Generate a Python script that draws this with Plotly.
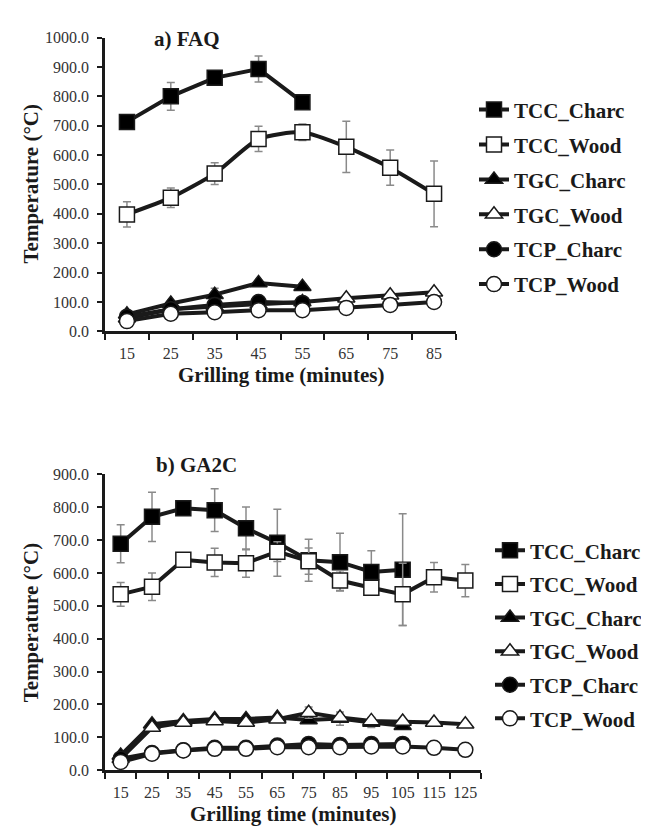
import plotly.graph_objects as go

# ---------------- data ----------------
series_names = ["TCC_Charc", "TCC_Wood", "TGC_Charc", "TGC_Wood", "TCP_Charc", "TCP_Wood"]

# a) FAQ
faq_time_charc = [15, 25, 35, 45, 55]
faq_time_wood = [15, 25, 35, 45, 55, 65, 75, 85]
faq_tcc_charc = [713, 800, 863, 893, 780]
faq_tcc_charc_err = [20, 47, 12, 44, 10]
faq_tcc_wood = [398, 455, 537, 655, 678, 628, 557, 468]
faq_tcc_wood_err = [43, 33, 37, 43, 28, 87, 60, 112]
faq_tgc_charc = [58, 95, 125, 165, 152]
faq_tgc_charc_err = [8, 10, 22, 8, 8]
faq_tgc_wood = [45, 75, 85, 92, 100, 113, 123, 133]
faq_tgc_wood_err = [5, 5, 5, 5, 5, 5, 5, 5]
faq_tcp_charc = [50, 75, 90, 100, 97]
faq_tcp_charc_err = [5, 5, 5, 5, 5]
faq_tcp_wood = [35, 60, 65, 72, 72, 80, 90, 100]
faq_tcp_wood_err = [5, 5, 5, 5, 12, 5, 5, 5]

# b) GA2C
ga_time_charc = [15, 25, 35, 45, 55, 65, 75, 85, 95, 105]
ga_time_wood = [15, 25, 35, 45, 55, 65, 75, 85, 95, 105, 115, 125]
ga_tcc_charc = [689, 771, 797, 791, 736, 692, 639, 633, 603, 610]
ga_tcc_charc_err = [58, 75, 10, 65, 65, 102, 64, 88, 65, 170]
ga_tcc_wood = [535, 558, 640, 632, 630, 665, 636, 577, 555, 535, 587, 577]
ga_tcc_wood_err = [36, 42, 10, 43, 43, 30, 40, 30, 20, 95, 45, 49]
ga_tgc_charc = [45, 140, 150, 156, 156, 160, 153, 157, 145, 135]
ga_tgc_charc_err = [5, 8, 5, 5, 5, 5, 8, 20, 15, 8]
ga_tgc_wood = [35, 130, 145, 150, 145, 155, 175, 160, 150, 148, 145, 140]
ga_tgc_wood_err = [5, 8, 5, 5, 5, 5, 17, 8, 8, 8, 5, 5]
ga_tcp_charc = [35, 52, 61, 68, 68, 75, 80, 77, 80, 80]
ga_tcp_charc_err = [4, 4, 4, 4, 4, 4, 4, 4, 4, 4]
ga_tcp_wood = [25, 50, 60, 65, 65, 70, 70, 70, 72, 72, 68, 62]
ga_tcp_wood_err = [4, 4, 4, 4, 4, 4, 4, 4, 4, 4, 4, 4]

faq_ticks = [15, 25, 35, 45, 55, 65, 75, 85]
ga_ticks = [15, 25, 35, 45, 55, 65, 75, 85, 95, 105, 115, 125]
faq_yticks = [0, 100, 200, 300, 400, 500, 600, 700, 800, 900, 1000]
ga_yticks = [0, 100, 200, 300, 400, 500, 600, 700, 800, 900]

# ---------------- styling ----------------
W, H = 649, 828
FONT = "Liberation Serif"
styles = {
    "TCC_Charc": ("square", "black"),
    "TCC_Wood": ("square", "white"),
    "TGC_Charc": ("triangle-up", "black"),
    "TGC_Wood": ("triangle-up", "white"),
    "TCP_Charc": ("circle", "black"),
    "TCP_Wood": ("circle", "white"),
}

fig = go.Figure()


def add(name, x, y, err, xa, ya, legend, shape="linear"):
    sym, fill = styles[name]
    fig.add_trace(go.Scatter(
        x=x, y=y, name="<b>" + name + "</b>", mode="lines+markers",
        xaxis=xa, yaxis=ya, legend=legend, legendgroup=legend + name,
        line=dict(color="#1a1a1a", width=4, shape=shape, smoothing=0.6),
        marker=dict(symbol=sym, size=15, color=fill,
                    line=dict(color="#1a1a1a", width=1.5)),
        error_y=dict(type="data", array=err, visible=True,
                     color="#8a8a8a", thickness=1.5, width=4),
    ))


faq_data = [
    ("TCC_Charc", faq_time_charc, faq_tcc_charc, faq_tcc_charc_err),
    ("TCC_Wood", faq_time_wood, faq_tcc_wood, faq_tcc_wood_err),
    ("TGC_Charc", faq_time_charc, faq_tgc_charc, faq_tgc_charc_err),
    ("TGC_Wood", faq_time_wood, faq_tgc_wood, faq_tgc_wood_err),
    ("TCP_Charc", faq_time_charc, faq_tcp_charc, faq_tcp_charc_err),
    ("TCP_Wood", faq_time_wood, faq_tcp_wood, faq_tcp_wood_err),
]
ga_data = [
    ("TCC_Charc", ga_time_charc, ga_tcc_charc, ga_tcc_charc_err),
    ("TCC_Wood", ga_time_wood, ga_tcc_wood, ga_tcc_wood_err),
    ("TGC_Charc", ga_time_charc, ga_tgc_charc, ga_tgc_charc_err),
    ("TGC_Wood", ga_time_wood, ga_tgc_wood, ga_tgc_wood_err),
    ("TCP_Charc", ga_time_charc, ga_tcp_charc, ga_tcp_charc_err),
    ("TCP_Wood", ga_time_wood, ga_tcp_wood, ga_tcp_wood_err),
]
for n, x, y, e in faq_data:
    add(n, x, y, e, "x", "y", "legend", "spline" if n == "TCC_Wood" else "linear")
for n, x, y, e in ga_data:
    add(n, x, y, e, "x2", "y2", "legend2")

tickfont = dict(family=FONT, size=16, color="#333333")
axis_common = dict(showline=True, linecolor="#1a1a1a", linewidth=2.5,
                   showgrid=False, zeroline=False, tickfont=tickfont,
                   ticks="outside", ticklen=5, tickcolor="#1a1a1a", tickwidth=1.5)


def px_x(p):
    return p / W


def px_y(p):
    return 1 - p / H


fig.update_layout(
    width=W, height=H, margin=dict(l=0, r=0, t=0, b=0),
    font=dict(family=FONT, color="#1a1a1a"),
    paper_bgcolor="white", plot_bgcolor="white", showlegend=True,
    xaxis=dict(domain=[px_x(97), px_x(448)], range=[10, 90], anchor="y",
               tickvals=faq_ticks, ticktext=[str(t) for t in faq_ticks],
               ticklabelstandoff=6,
               **{**axis_common, "ticks": ""},
               minor=dict(tickvals=list(range(10, 91, 10)), ticks="outside",
                          ticklen=6, tickcolor="#1a1a1a", tickwidth=1.5)),
    yaxis=dict(domain=[px_y(322), px_y(22)], range=[0, 1000], anchor="x",
               tickvals=faq_yticks, ticktext=[f"{v:.1f}" for v in faq_yticks],
               ticklabelstandoff=5, **axis_common),
    xaxis2=dict(domain=[px_x(97), px_x(473)], range=[10, 130], anchor="y2",
                tickvals=ga_ticks, ticktext=[str(t) for t in ga_ticks],
                ticklabelstandoff=6,
                **{**axis_common, "ticks": ""},
                minor=dict(tickvals=list(range(10, 131, 10)), ticks="outside",
                           ticklen=6, tickcolor="#1a1a1a", tickwidth=1.5)),
    yaxis2=dict(domain=[px_y(770), px_y(468)], range=[0, 900], anchor="x2",
                tickvals=ga_yticks, ticktext=[f"{v:.1f}" for v in ga_yticks],
                ticklabelstandoff=5, **axis_common),
    legend=dict(x=px_x(466), y=px_y(75), xanchor="left", yanchor="top",
                font=dict(family=FONT, size=21, color="#1a1a1a"),
                tracegroupgap=4.6, itemwidth=30, bgcolor="rgba(0,0,0,0)"),
    legend2=dict(x=px_x(482), y=px_y(525), xanchor="left", yanchor="top",
                 font=dict(family=FONT, size=21, color="#1a1a1a"),
                 tracegroupgap=3.3, itemwidth=30, bgcolor="rgba(0,0,0,0)"),
)

title_font = dict(family=FONT, size=21, color="#1a1a1a")
annots = [
    dict(text="<b>a) FAQ</b>", x=px_x(179), y=px_y(23)),
    dict(text="<b>b) GA2C</b>", x=px_x(188), y=px_y(458)),
    dict(text="<b>Grilling time (minutes)</b>", x=px_x(273), y=px_y(367)),
    dict(text="<b>Grilling time (minutes)</b>", x=px_x(285), y=px_y(815)),
    dict(text="<b>Temperature (°C)</b>", x=px_x(23), y=px_y(172), textangle=-90),
    dict(text="<b>Temperature (°C)</b>", x=px_x(23), y=px_y(620), textangle=-90),
]
for a in annots:
    fig.add_annotation(xref="paper", yref="paper", showarrow=False,
                       xanchor="center", yanchor="middle", font=title_font, **a)

fig.write_html("out.html")
